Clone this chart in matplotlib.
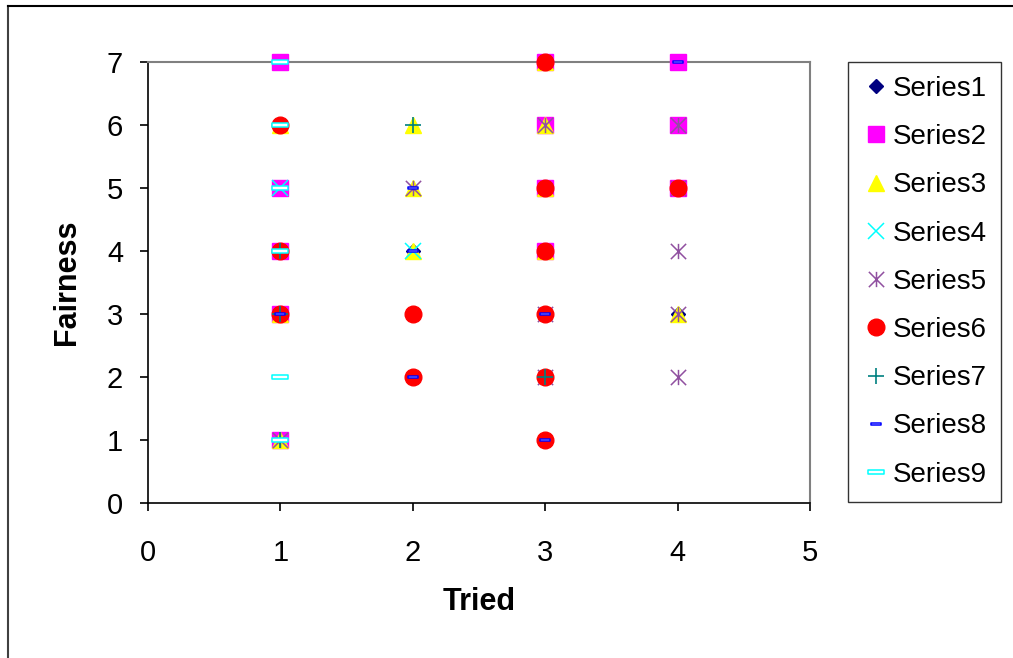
import matplotlib.pyplot as plt
from matplotlib.path import Path
from matplotlib.lines import Line2D

plt.rcParams['font.family'] = ['Liberation Sans', 'DejaVu Sans']

# (tried, fairness) points per series
s1_x = [2, 4]
s1_y = [4, 3]
s2_x = [1, 1, 1, 1, 1, 3, 3, 3, 3, 4, 4, 4]
s2_y = [7, 5, 4, 3, 1, 7, 6, 5, 4, 7, 6, 5]
s3_x = [1, 1, 1, 2, 2, 2, 3, 3, 3, 3, 4]
s3_y = [6, 3, 1, 6, 5, 4, 7, 6, 5, 4, 3]
s4_x = [1, 2]
s4_y = [5, 4]
s5_x = [1, 2, 3, 3, 3, 4, 4, 4, 4, 4]
s5_y = [1, 5, 6, 3, 2, 6, 5, 4, 3, 2]
s6_x = [1, 1, 1, 2, 2, 3, 3, 3, 3, 3, 3, 4]
s6_y = [6, 4, 3, 3, 2, 7, 5, 4, 3, 2, 1, 5]
s7_x = [1, 1, 1, 2, 3]
s7_y = [4, 3, 1, 6, 2]
s8_x = [1, 1, 1, 1, 2, 2, 2, 3, 3, 4]
s8_y = [7, 4, 3, 2, 5, 4, 2, 3, 1, 7]
s9_x = [1, 1, 1, 1, 1, 1]
s9_y = [7, 6, 5, 4, 2, 1]

labels = ['Series1', 'Series2', 'Series3', 'Series4', 'Series5',
          'Series6', 'Series7', 'Series8', 'Series9']

star = Path([(-1, -1), (1, 1), (-1, 1), (1, -1), (0, -1), (0, 1)],
            [Path.MOVETO, Path.LINETO, Path.MOVETO, Path.LINETO,
             Path.MOVETO, Path.LINETO])
dash = Path([(-1, -0.25), (1, -0.25), (1, 0.25), (-1, 0.25), (-1, -0.25)],
            [Path.MOVETO, Path.LINETO, Path.LINETO, Path.LINETO, Path.CLOSEPOLY])

fig = plt.figure(figsize=(10.13, 6.58), dpi=100)
ax = fig.add_axes([148 / 1013, 155 / 658, 662 / 1013, 441 / 658])

kw = dict(linestyle='none', clip_on=False, zorder=5)
ax.plot(s1_x, s1_y, marker='D', ms=7.5, color='#000080', label=labels[0], **kw)
ax.plot(s2_x, s2_y, marker='s', ms=11, color='#FF00FF', label=labels[1], **kw)
ax.plot(s3_x, s3_y, marker='^', ms=12, color='#FFFF00', label=labels[2], **kw)
ax.plot(s4_x, s4_y, marker='x', ms=11, mew=1.1, color='#00FFFF', label=labels[3], **kw)
ax.plot(s5_x, s5_y, marker=star, ms=11, mew=1.1, color='#9050A0', mfc='none', label=labels[4], **kw)
ax.plot(s6_x, s6_y, marker='o', ms=12, color='#FF0000', label=labels[5], **kw)
ax.plot(s7_x, s7_y, marker='+', ms=12, mew=1.2, color='#008080', label=labels[6], **kw)
ax.plot(s8_x, s8_y, marker=dash, ms=7, mew=1.1, mec='#0000FF', mfc='white', label=labels[7], **kw)
ax.plot(s9_x, s9_y, marker=dash, ms=11, mew=1.1, mec='#00FFFF', mfc='white', label=labels[8], **kw)

ax.set_xlim(0, 5)
ax.set_ylim(0, 7)
ax.set_xticks(range(0, 6))
ax.set_yticks(range(0, 8))
ax.tick_params(labelsize=21, length=6, width=1.2, direction='out')
ax.tick_params(axis='x', pad=20)
ax.tick_params(axis='y', pad=12)
ax.spines['top'].set_color('#808080')
ax.spines['right'].set_color('#808080')
ax.spines['top'].set_linewidth(1.5)
ax.spines['right'].set_linewidth(1.5)
ax.spines['left'].set_linewidth(1.2)
ax.spines['bottom'].set_linewidth(1.2)

ax.set_xlabel('Tried', fontsize=22, fontweight='bold', labelpad=14)
ax.set_ylabel('Fairness', fontsize=22, fontweight='bold', labelpad=18)

leg = fig.legend(loc='upper left', bbox_to_anchor=(848 / 1013, 1 - 62 / 658),
                 fontsize=20, frameon=True, fancybox=False, edgecolor='black',
                 labelspacing=0.8, handlelength=1.0, handletextpad=0.12,
                 borderpad=0.5, borderaxespad=0)
leg.get_frame().set_linewidth(1.0)

# chart area border
fig.add_artist(Line2D([8 / 1013, 8 / 1013], [0, 1 - 6 / 658], color='#404040', lw=1.5))
fig.add_artist(Line2D([8 / 1013, 1], [1 - 6 / 658, 1 - 6 / 658], color='black', lw=1.5))

fig.savefig('out.png', dpi=100)
